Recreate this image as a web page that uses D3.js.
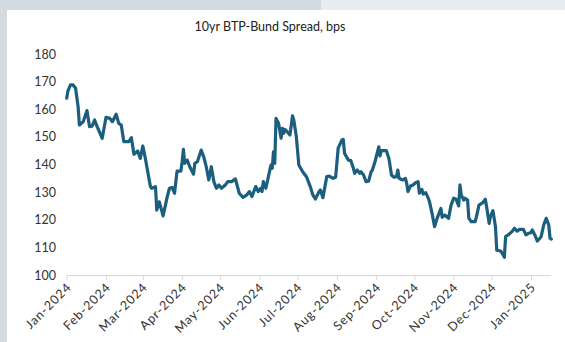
<!DOCTYPE html>
<html><head><meta charset="utf-8">
<script src="https://cdn.jsdelivr.net/npm/d3@7"></script>
<style>
html,body{margin:0;padding:0;background:#fff;}
svg{display:block;}
text{font-family:"Lato","Noto Sans",sans-serif;fill:#333;}
</style></head><body>
<svg id="c" width="565" height="342"></svg>
<script>
const title = "10yr BTP-Bund Spread, bps";
const dates = ["2024-01-01","2024-01-02","2024-01-04","2024-01-06","2024-01-08","2024-01-10","2024-01-11","2024-01-14","2024-01-17","2024-01-19","2024-01-21","2024-01-23","2024-01-25","2024-01-29",
"2024-02-01","2024-02-04","2024-02-06","2024-02-09","2024-02-11","2024-02-13","2024-02-15","2024-02-19","2024-02-21","2024-02-23","2024-02-26","2024-02-28",
"2024-03-01","2024-03-03","2024-03-07","2024-03-08","2024-03-11","2024-03-12","2024-03-14","2024-03-17","2024-03-20","2024-03-22","2024-03-24","2024-03-26","2024-03-28","2024-03-31",
"2024-04-01","2024-04-02","2024-04-03","2024-04-05","2024-04-07","2024-04-10","2024-04-11","2024-04-13","2024-04-16","2024-04-18","2024-04-20","2024-04-22","2024-04-24","2024-04-26","2024-04-28","2024-04-30",
"2024-05-02","2024-05-05","2024-05-07","2024-05-10","2024-05-13","2024-05-16","2024-05-19","2024-05-22","2024-05-24","2024-05-26","2024-05-29","2024-05-31",
"2024-06-02","2024-06-03","2024-06-04","2024-06-06","2024-06-08","2024-06-10","2024-06-11","2024-06-12","2024-06-13","2024-06-14","2024-06-16","2024-06-18","2024-06-19","2024-06-20","2024-06-21","2024-06-24","2024-06-25","2024-06-27","2024-06-28","2024-06-30",
"2024-07-02","2024-07-05","2024-07-08","2024-07-09","2024-07-11","2024-07-13","2024-07-15","2024-07-18","2024-07-19","2024-07-21","2024-07-24","2024-07-26","2024-07-29","2024-07-31",
"2024-08-02","2024-08-05","2024-08-06","2024-08-07","2024-08-10","2024-08-12","2024-08-14","2024-08-15","2024-08-17","2024-08-19","2024-08-20","2024-08-22","2024-08-24","2024-08-26","2024-08-28","2024-08-29","2024-08-31",
"2024-09-03","2024-09-04","2024-09-05","2024-09-09","2024-09-11","2024-09-13","2024-09-15","2024-09-17","2024-09-18","2024-09-19","2024-09-21","2024-09-22","2024-09-24","2024-09-25","2024-09-26","2024-09-28","2024-09-30",
"2024-10-02","2024-10-04","2024-10-05","2024-10-07","2024-10-08","2024-10-10","2024-10-12","2024-10-13","2024-10-15","2024-10-17","2024-10-19","2024-10-22","2024-10-23","2024-10-25","2024-10-28","2024-10-30",
"2024-11-01","2024-11-03","2024-11-05","2024-11-06","2024-11-07","2024-11-09","2024-11-10","2024-11-12","2024-11-13","2024-11-15","2024-11-18","2024-11-19","2024-11-21","2024-11-24","2024-11-26","2024-11-27","2024-11-29","2024-11-30",
"2024-12-02","2024-12-04","2024-12-05","2024-12-08","2024-12-09","2024-12-11","2024-12-12","2024-12-14","2024-12-17","2024-12-19","2024-12-21","2024-12-23","2024-12-26","2024-12-28","2024-12-30",
"2025-01-01","2025-01-02","2025-01-04","2025-01-06","2025-01-08","2025-01-09","2025-01-11","2025-01-13","2025-01-15","2025-01-16","2025-01-17"];
const spread = [164,166.7,168.8,168.8,167.6,160.9,154.3,155.5,159.5,153.7,153.9,156.1,153.7,149.5,
157.1,156.7,155.5,158.2,154.9,154.3,148.3,148.3,149.7,143.7,144.9,142.2,
146.7,142.2,132,131.4,132,123.5,126.5,121.4,127.8,131.4,131.7,129.6,137.6,137.6,
141,145.5,140.4,141.6,139.2,136.5,140.4,141,145.2,142.8,139.2,134.4,139.2,133.8,131.4,132.6,
131.4,132.6,133.8,133.8,134.8,129.6,128.1,129,130.2,128.4,132,130.2,
131.4,130.2,133.8,131.4,135.6,139.8,138.6,144.6,140.4,156.7,154.9,149.5,153.1,151.3,152.7,151.3,150.7,157.6,156.1,150.1,
139.8,137.4,135.6,134.4,132,129,127.5,130.2,130.8,128,135.6,135.8,135,135.4,
145.9,148.9,149.1,144.1,141.6,141.4,138.6,136.8,138,136.8,137.4,136.2,133.8,134,137.4,138,141,
146.4,143.1,145,145,142.2,136.2,135.4,135.6,138,135,134.6,134.4,135,133.2,130.2,132.2,132.6,
133.4,133.8,129.6,131,129.3,129.8,127.8,126.5,122.3,117.5,120.5,124.1,120.9,121.7,120.5,125.3,
127.8,127.4,125,132.6,129,127.1,127.8,127.1,120.5,119.3,119.3,121.1,125.3,126.2,127.4,124.7,118.7,121.1,
123.3,117.5,109,108.7,108.1,106.4,113.9,114.5,115.7,116.9,115.9,116.5,116.5,114.5,115.1,
115.3,116.3,114.5,112.3,113.3,113.9,118.1,120.5,118.1,113.3,113];
const yTicks = [100,110,120,130,140,150,160,170,180];
const monthTicks = ["2024-01-01","2024-02-01","2024-03-01","2024-04-01","2024-05-01","2024-06-01","2024-07-01","2024-08-01","2024-09-01","2024-10-01","2024-11-01","2024-12-01","2025-01-01"];

const parse = d3.timeParse("%Y-%m-%d");
const data = dates.map((d,i)=>({date:parse(d), v:spread[i]}));
const svg = d3.select("#c");

// background frame
svg.append("rect").attr("x",0).attr("y",0).attr("width",565).attr("height",342).attr("fill","#fff");
svg.append("rect").attr("x",0).attr("y",0).attr("width",7).attr("height",342).attr("fill","#d3dbe2");
svg.append("rect").attr("x",0).attr("y",0).attr("width",321).attr("height",10).attr("fill","#d3dbe2");
svg.append("rect").attr("x",321).attr("y",0).attr("width",244).attr("height",10).attr("fill","#e8edf3");

const x = d3.scaleTime().domain([parse("2024-01-01"), parse("2025-01-01")]).range([66.7, 531]);
const y = d3.scaleLinear().domain([100,180]).range([275,54]);

svg.append("text").attr("x",270).attr("y",31).attr("text-anchor","middle")
  .style("font-size","12.5px").style("fill","#222").text(title);

// y labels
const ya = svg.append("g").attr("transform","translate(56,0)")
  .call(d3.axisLeft(y).tickValues(yTicks).tickSize(0).tickPadding(0).tickFormat(d3.format("d")));
ya.select(".domain").remove();
ya.selectAll("text").style("font-size","12.5px").style("font-family","Lato, 'Noto Sans', sans-serif").attr("fill","#333");

// x axis
const xa = svg.append("g").attr("transform","translate(0,275)")
  .call(d3.axisBottom(x).tickValues(monthTicks.map(parse)).tickSize(5).tickFormat(d3.timeFormat("%b-%Y")));
xa.select(".domain").attr("d","M66.7,0.5H551").attr("stroke","#d9d9d9");
xa.selectAll(".tick line").attr("stroke","#d9d9d9");
xa.selectAll("text").style("font-size","12.5px").style("letter-spacing","0.9px")
  .style("font-family","Lato, 'Noto Sans', sans-serif").attr("fill","#333")
  .attr("text-anchor","end").attr("dx","0").attr("dy","0")
  .attr("transform","translate(5,13) rotate(-45)").attr("y",0).attr("x",0);

const line = d3.line().x(d=>x(d.date)).y(d=>y(d.v));
svg.append("path").datum(data).attr("d",line).attr("fill","none")
  .attr("stroke","#1b5e7e").attr("stroke-width",3.2).attr("stroke-linejoin","round").attr("stroke-linecap","round");
</script></body></html>
